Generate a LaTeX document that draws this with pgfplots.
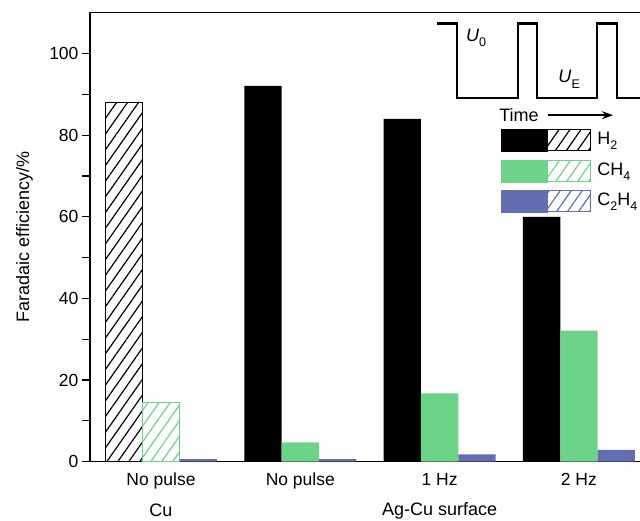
\documentclass[border=0pt]{standalone}
\usepackage{pgfplots}
\pgfplotsset{compat=1.18}
\usepackage{fontspec}
\setmainfont{Liberation Sans}
\usetikzlibrary{patterns.meta,arrows.meta}
\definecolor{mygreen}{RGB}{109,211,137}
\definecolor{myblue}{RGB}{99,110,178}
\newcommand\fs{\fontsize{18}{21.6}\selectfont}
\newcommand\ft{\fontsize{17.5}{21}\selectfont}
\newcommand\sub[1]{\raisebox{-0.28em}{\fontsize{12.5}{13}\selectfont #1}}
\tikzset{hatch/.style={pattern={Lines[angle=55,distance=9pt,line width=1.2pt]}}}
\begin{document}
\begin{tikzpicture}
\useasboundingbox (-90pt,-58.4pt) rectangle (550pt,461.6pt);
\begin{axis}[
  scale only axis,
  width=552pt, height=448.8pt,
  xmin=-0.5097, xmax=3.453,
  ymin=0, ymax=110,
  axis line style={line width=1.2pt},
  tick pos=left, tick align=outside,
  xtick={0,1,2,3},
  xticklabels={No pulse,No pulse,1 Hz,2 Hz},
  x tick style={draw=none},
  major x tick style={draw=none},
  ytick={0,20,40,60,80,100},
  minor y tick num=1,
  y tick style={line width=1.1pt, black},
  major tick length=8pt, minor tick length=8pt,
  /pgf/number format/assume math mode=true,
  tick label style={font=\ft},
  ylabel={Faradaic efficiency/\%},
  every axis y label/.style={at={(axis description cs:0,0.5)}, xshift=-65.5pt, rotate=90, anchor=center, font=\fs},
  bar width=37.3pt,
  clip=false,
  legend style={at={(axis description cs:0.7446,0.741)}, anchor=north west, draw=none, fill=none, inner sep=0pt, row sep=8pt, font=\fs, nodes={inner sep=2pt, text height=13pt, text depth=4pt}, cells={anchor=west}},
]
% H2
\addplot[ybar, forget plot, bar shift=-37.3pt, draw=black, line width=1pt, hatch, pattern color=black] coordinates {(0,87.9)};
\addplot[ybar, forget plot, bar shift=-37.3pt, fill=black, draw=none] coordinates {(1,92.1) (2,84.0) (3,60.0)};
% CH4
\addplot[ybar, forget plot, bar shift=0pt, draw=mygreen, line width=1pt, hatch, pattern color=mygreen] coordinates {(0,14.4)};
\addplot[ybar, forget plot, bar shift=0pt, fill=mygreen, draw=none] coordinates {(1,4.7) (2,16.7) (3,32.1)};
% C2H4
\addplot[ybar, forget plot, bar shift=37.3pt, fill=myblue, draw=none] coordinates {(0,0.6) (1,0.6) (2,1.8) (3,2.9)};
% inset waveform
\addplot[forget plot, black, line width=2.2pt, line join=miter, sharp plot, mark=none] coordinates {
(1.983,107.4) (2.123,107.4) (2.123,89.1) (2.561,89.1) (2.561,107.4) (2.701,107.4) (2.701,89.1)
(3.128,89.1) (3.128,107.4) (3.271,107.4) (3.271,89.1) (3.453,89.1)};
\addplot[forget plot, black, line width=1.5pt, -{Stealth[length=11pt,width=8pt]}, sharp plot, mark=none] coordinates {(2.778,84.9) (3.245,84.9)};
\node[font=\fs] at (axis cs:2.570,84.9) {Time};
\node[font=\fs] at (axis cs:2.262,103.9) {\textit{U}\sub{0}};
\node[font=\fs] at (axis cs:2.930,93.7) {\textit{U}\sub{E}};
% legend
\addlegendimage{legend image code/.code={
  \fill[black] (0pt,-11pt) rectangle (46pt,11pt);
  \draw[black, line width=1pt, hatch, pattern color=black] (46pt,-10.5pt) rectangle (89.5pt,10.5pt);}}
\addlegendentry{\hspace{4pt}H\sub{2}}
\addlegendimage{legend image code/.code={
  \fill[mygreen] (0pt,-11pt) rectangle (46pt,11pt);
  \draw[mygreen, line width=1pt, hatch, pattern color=mygreen] (46pt,-10.5pt) rectangle (89.5pt,10.5pt);}}
\addlegendentry{\hspace{4pt}CH\sub{4}}
\addlegendimage{legend image code/.code={
  \fill[myblue] (0pt,-11pt) rectangle (46pt,11pt);
  \draw[myblue, line width=1pt, hatch, pattern color=myblue] (46pt,-10.5pt) rectangle (89.5pt,10.5pt);}}
\addlegendentry{\hspace{4pt}C\sub{2}H\sub{4}}
% group labels
\node[font=\fs] at (axis cs:0,0) [yshift=-49pt] {Cu};
\node[font=\fs] at (axis cs:2,0) [yshift=-49pt] {Ag-Cu surface};
\end{axis}
\end{tikzpicture}
\end{document}
